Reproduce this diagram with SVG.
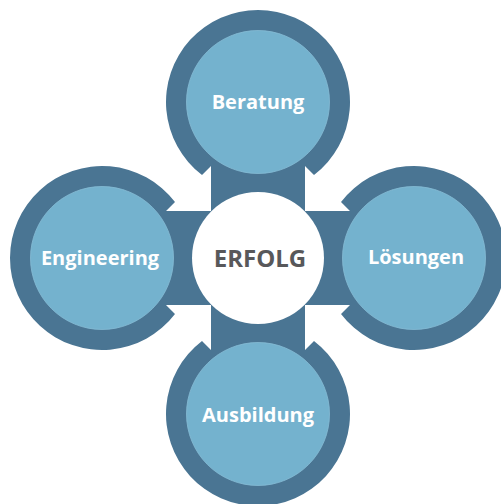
<svg xmlns="http://www.w3.org/2000/svg" width="501" height="504" viewBox="0 0 501 504">
  <style>
    .ring { fill: #4a7593; }
    .inner { fill: #74b2ce; stroke: #86bdd6; stroke-width: 0.8; }
    .label { font-family: "Open Sans", "Liberation Sans", sans-serif; font-weight: bold; font-size: 20px; fill: #ffffff; text-anchor: middle; }
    .center-label { font-family: "Open Sans", "Liberation Sans", sans-serif; font-weight: bold; font-size: 24px; fill: #58585a; text-anchor: middle; }
  </style>
  <rect width="501" height="504" fill="#ffffff"/>
  <g id="connectors">
    <path class="ring" d="M211,150 L305,150 L305,211 L366,211 L366,305 L305,305 L305,366 L211,366 L211,305 L150,305 L150,211 L211,211 Z"/>
  </g>
  <g id="node-beratung">
    <path class="ring" d="M202,175 A92,92 0 1,1 314,175 L305,166 L211,166 Z"/>
    <circle class="inner" cx="258" cy="102" r="71.5"/>
    <text class="label" x="258" y="109">Beratung</text>
  </g>
  <g id="node-engineering">
    <path class="ring" d="M175,314 A92,92 0 1,1 175,202 L166,211 L166,305 Z"/>
    <circle class="inner" cx="102" cy="258" r="71.5"/>
    <text class="label" x="100" y="265">Engineering</text>
  </g>
  <g id="node-loesungen">
    <path class="ring" d="M341,202 A92,92 0 1,1 341,314 L350,305 L350,211 Z"/>
    <circle class="inner" cx="414" cy="258" r="71.5"/>
    <text class="label" x="416" y="264">Lösungen</text>
  </g>
  <g id="node-ausbildung">
    <path class="ring" d="M314,341 A92,92 0 1,1 202,341 L211,350 L305,350 Z"/>
    <circle class="inner" cx="258" cy="414" r="71.5"/>
    <text class="label" x="258" y="421.5">Ausbildung</text>
  </g>
  <g id="node-erfolg">
    <circle cx="258" cy="258" r="66" fill="#ffffff"/>
    <text class="center-label" x="260" y="266.5">ERFOLG</text>
  </g>
</svg>
